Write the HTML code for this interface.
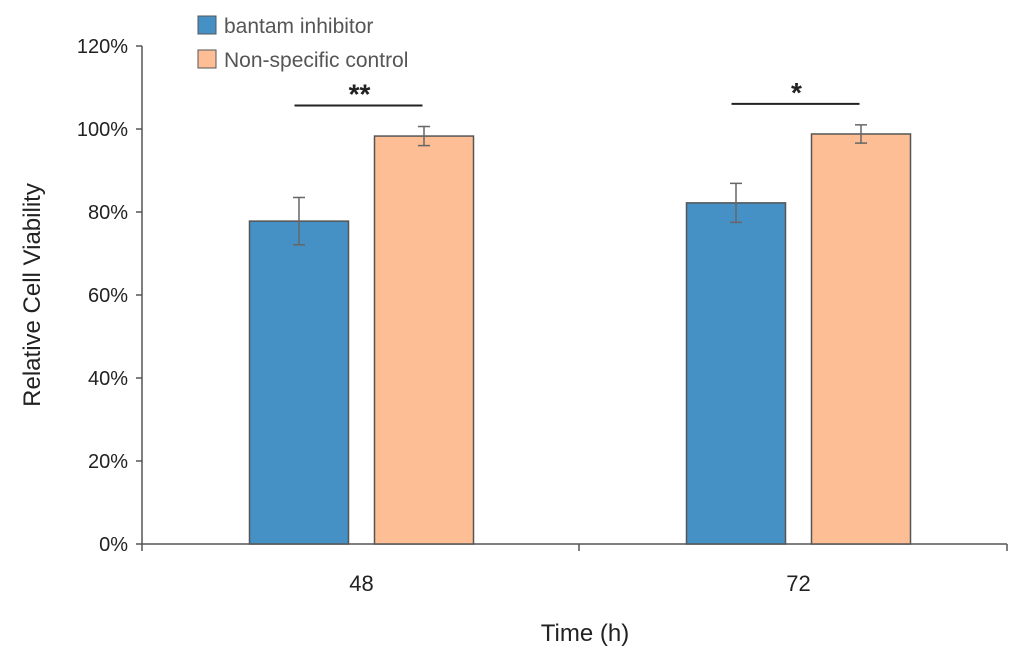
<!DOCTYPE html>
<html><head><meta charset="utf-8">
<style>
html,body{margin:0;padding:0;background:#fff;}
svg{display:block;font-family:"Liberation Sans",sans-serif;}
</style></head>
<body>
<svg id="chart" width="1024" height="666" viewBox="0 0 1024 666" xmlns="http://www.w3.org/2000/svg">
<g id="axes"></g>
<g id="bars"></g>
<g id="legend"></g>
</svg>
<script>
const categories = ["48", "72"];
const seriesNames = ["bantam inhibitor", "Non-specific control"];
const inhibitorValues = [77.8, 82.2];
const controlValues = [98.3, 98.8];
const inhibitorErrors = [5.7, 4.7];
const controlErrors = [2.3, 2.2];
const significance = ["**", "*"];
const yTicks = [0, 20, 40, 60, 80, 100, 120];

const NS = "http://www.w3.org/2000/svg";
const X0 = 142, X1 = 1007, Y0 = 544, Y1 = 46;
const yMax = 120;
function y(v){ return Y0 - (v / yMax) * (Y0 - Y1); }
const groupW = 437;
function groupCenter(i){ return X0 + groupW * (i + 0.5) + 1; }
const barW = 99, gap = 26;

function el(tag, attrs, parent, text){
  const e = document.createElementNS(NS, tag);
  for (const k in attrs) e.setAttribute(k, attrs[k]);
  if (text !== undefined) e.textContent = text;
  parent.appendChild(e);
  return e;
}
const axes = document.getElementById("axes");
const bars = document.getElementById("bars");
const legend = document.getElementById("legend");

let a = el("line", {x1:X0, y1:Y1, x2:X0, y2:Y0, stroke:"#555", "stroke-width":1.5}, axes);


a = el("line", {x1:X0, y1:Y0, x2:X1, y2:Y0, stroke:"#555", "stroke-width":1.5}, axes);



yTicks.forEach(t => {
  const tk = el("line", {x1:X0-6, y1:y(t), x2:X0, y2:y(t), stroke:"#555", "stroke-width":1.5}, axes);
  
  
  const lb = el("text", {x:X0-14, y:y(t)+7, "text-anchor":"end", "font-size":20, fill:"#222"}, axes, t + "%");
  
  
});
for (let i = 0; i <= categories.length; i++) {
  const x = Math.min(X0 + groupW * i, X1);
  const tk = el("line", {x1:x, y1:Y0, x2:x, y2:Y0+7, stroke:"#555", "stroke-width":1.5}, axes);
  
  
}
categories.forEach((c, i) => {
  const lb = el("text", {x:groupCenter(i), y:591, "text-anchor":"middle", "font-size":22, fill:"#222"}, axes, c);
  
  
});
let t = el("text", {x:585, y:641, "text-anchor":"middle", "font-size":24, fill:"#222"}, axes, "Time (h)");


t = el("text", {x:0, y:0, transform:"translate(40,295) rotate(-90)", "text-anchor":"middle", "font-size":24, fill:"#222"}, axes, "Relative Cell Viability");



const colors = ["#4591c5", "#fdbe95"];
const series = [inhibitorValues, controlValues];
const errs = [inhibitorErrors, controlErrors];
categories.forEach((c, i) => {
  const cx = groupCenter(i);
  series.forEach((vals, s) => {
    const bx = s === 0 ? cx - gap/2 - barW : cx + gap/2;
    const r = el("rect", {x:bx, y:y(vals[i]), width:barW, height:Y0 - y(vals[i]), fill:colors[s], stroke:"#555", "stroke-width":1.5}, bars);
    
    
    const mx = bx + barW/2, hi = y(vals[i] + errs[s][i]), lo = y(vals[i] - errs[s][i]);
    const eg = el("g", {stroke:"#666", "stroke-width":1.5}, bars);
    
    
    el("line", {x1:mx, y1:hi, x2:mx, y2:lo}, eg);
    el("line", {x1:mx-6, y1:hi, x2:mx+6, y2:hi}, eg);
    el("line", {x1:mx-6, y1:lo, x2:mx+6, y2:lo}, eg);
  });
  const top = Math.max(controlValues[i] + controlErrors[i], inhibitorValues[i] + inhibitorErrors[i]);
  const ly = y(top) - 21;
  const sl = el("line", {x1:cx - 67, y1:ly, x2:cx + 61, y2:ly, stroke:"#222", "stroke-width":2}, bars);
  
  
  const st = el("text", {x:cx - 2, y:ly - 2, "text-anchor":"middle", "font-size":28, "font-weight":"bold", fill:"#222"}, bars, significance[i]);
  
  
});

seriesNames.forEach((n, s) => {
  const g = el("g", {}, legend);
  
  
  const yy = 16 + s * 34;
  el("rect", {x:198, y:yy, width:18, height:18, fill:colors[s], stroke:"#555", "stroke-width":1}, g);
  el("text", {x:224, y:yy + 17, "font-size":21, fill:"#555"}, g, n);
});
</script>
</body></html>
